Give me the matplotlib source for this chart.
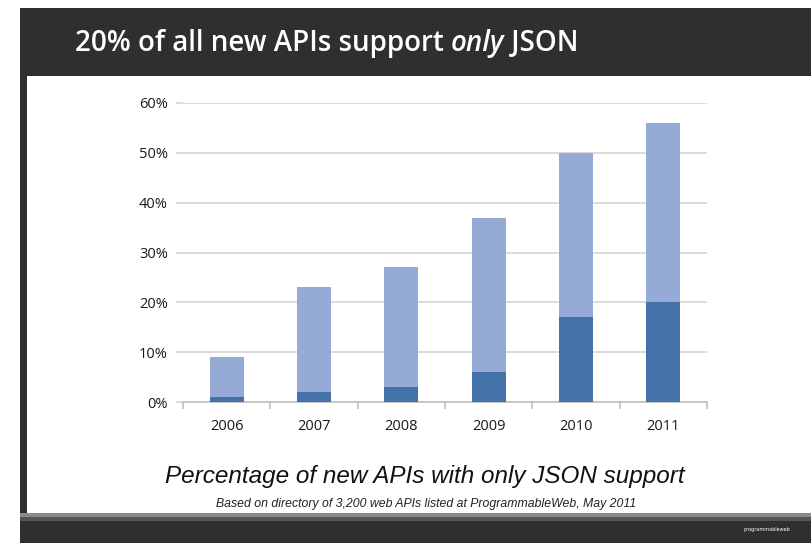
import numpy as np
import matplotlib.pyplot as plt
from matplotlib.patches import Rectangle

# data (percent of new APIs)
years = ['2006', '2007', '2008', '2009', '2010', '2011']
json_any = [9, 23, 27, 37, 50, 56]     # light bars, total height
json_only = [1, 2, 3, 6, 17, 20]       # dark bars at the bottom
yticks = [0, 10, 20, 30, 40, 50, 60]

W, H = 811, 543
fig = plt.figure(figsize=(W / 100, H / 100), dpi=100)
fig.patch.set_facecolor('white')

def box(x0, y0, x1, y1, color):
    # rectangle in pixel coords (y from top)
    fig.add_artist(Rectangle((x0 / W, 1 - y1 / H), (x1 - x0) / W, (y1 - y0) / H,
                             transform=fig.transFigure, color=color, lw=0, zorder=0))

dark = '#2f2f2f'
box(20, 8, W, 76, dark)          # header band
box(20, 8, 27, H, dark)          # left edge
box(20, 513, W, 517, '#8a8a8a')  # light line over footer
box(20, 517, W, 521, '#555555')
box(20, 521, W, H, dark)         # footer band

# title with italic "only"
parts = [('20% of all new APIs support ', 'normal'), ('only', 'italic'), (' JSON', 'normal')]
x = 75 / W
r = fig.canvas.get_renderer()
for txt, st in parts:
    t = fig.text(x, 1 - 43 / H, txt, color='white', fontsize=20, family='Open Sans',
                 style=st, weight='semibold', va='center', ha='left')
    bb = t.get_window_extent(renderer=r)
    x += bb.width / W

ax = fig.add_axes([183 / W, 1 - 402 / H, 524 / W, 299 / H])
xpos = np.arange(len(years))
only = np.array(json_only)
tot = np.array(json_any)
ax.bar(xpos, only, width=0.39, color='#4472a8', zorder=3)
ax.bar(xpos, tot - only, bottom=only, width=0.39, color='#95abd6', zorder=3)

ax.set_xlim(-0.5, len(years) - 0.5)
ax.set_ylim(0, 60)
ax.set_yticks(yticks)
ax.set_yticklabels([f'{v}%' for v in yticks])
ax.set_xticks(xpos)
ax.set_xticklabels(years)
ax.set_xticks(np.arange(len(years) + 1) - 0.5, minor=True)
ax.grid(axis='y', color='#d4d4d4', lw=1.2, zorder=0)
for s in ['top', 'right', 'left']:
    ax.spines[s].set_visible(False)
ax.spines['bottom'].set_color('#bfbfbf')
ax.spines['bottom'].set_linewidth(1.2)
ax.tick_params(axis='x', which='major', length=0, pad=12, labelsize=10.5, labelcolor='#1a1a1a')
ax.tick_params(axis='x', which='minor', length=5, color='#bfbfbf', width=1.2)
ax.tick_params(axis='y', length=5, color='#d4d4d4', width=1.2, pad=6, labelsize=10.5,
               labelcolor='#1a1a1a')
for lab in ax.get_xticklabels() + ax.get_yticklabels():
    lab.set_family('Open Sans')

fig.text(425 / W, 1 - 477 / H, 'Percentage of new APIs with only JSON support',
         fontsize=17.5, style='italic', family='Liberation Sans', color='#111111',
         ha='center', va='center')
fig.text(426 / W, 1 - 504 / H,
         'Based on directory of 3,200 web APIs listed at ProgrammableWeb, May 2011',
         fontsize=8.8, style='italic', family='Liberation Sans', color='#222222',
         ha='center', va='center')
fig.text(790 / W, 1 - 530 / H, 'programmableweb', fontsize=3.5, color='white',
         ha='right', va='center')

fig.savefig('out.png', dpi=100)
